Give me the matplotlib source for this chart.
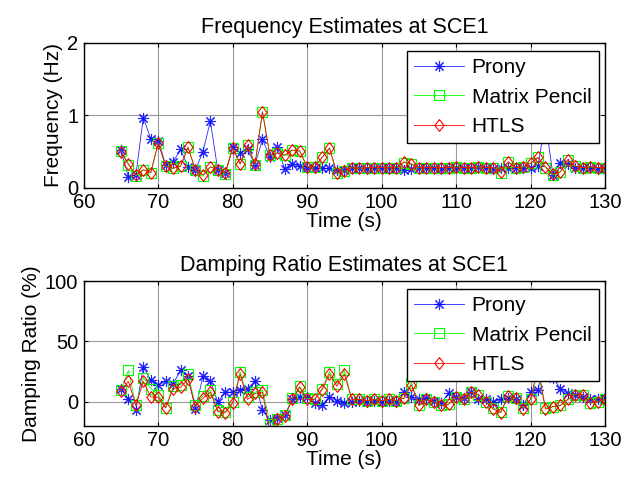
import numpy as np
import matplotlib
matplotlib.use("Agg")
import matplotlib.pyplot as plt

plt.rcParams["font.family"] = ["Liberation Sans", "DejaVu Sans"]

# ------------------------------------------------------------------
# Data
# ------------------------------------------------------------------

time_s = list(range(65, 131))

freq_prony = [0.52, 0.15, 0.18, 0.97, 0.68, 0.65, 0.32, 0.36, 0.53, 0.29,
              0.25, 0.50, 0.92, 0.25, 0.20, 0.56, 0.48, 0.53, 0.32, 0.67,
              0.43, 0.56, 0.26, 0.33, 0.30, 0.28, 0.28, 0.27, 0.27, 0.25,
              0.25, 0.27, 0.27, 0.26, 0.27, 0.27, 0.28, 0.27, 0.25, 0.26,
              0.28, 0.27, 0.27, 0.26, 0.27, 0.28, 0.27, 0.27, 0.29, 0.27,
              0.26, 0.27, 0.27, 0.28, 0.27, 0.28, 0.30, 0.93, 0.18, 0.35,
              0.33, 0.28, 0.27, 0.27, 0.26, 0.27]
freq_mp = [0.51, 0.32, 0.17, 0.25, 0.21, 0.62, 0.30, 0.27, 0.30, 0.56,
           0.24, 0.16, 0.29, 0.25, 0.19, 0.55, 0.33, 0.59, 0.32, 1.05,
           0.45, 0.48, 0.45, 0.52, 0.51, 0.29, 0.29, 0.42, 0.55, 0.20,
           0.23, 0.28, 0.27, 0.28, 0.28, 0.28, 0.28, 0.28, 0.35, 0.33,
           0.28, 0.28, 0.28, 0.28, 0.28, 0.29, 0.28, 0.28, 0.29, 0.28,
           0.28, 0.21, 0.36, 0.28, 0.29, 0.34, 0.42, 0.28, 0.18, 0.22,
           0.38, 0.30, 0.28, 0.29, 0.28, 0.28]
freq_htls = [0.50, 0.33, 0.18, 0.25, 0.21, 0.62, 0.30, 0.27, 0.30, 0.56,
             0.25, 0.18, 0.29, 0.25, 0.20, 0.55, 0.33, 0.59, 0.33, 1.05,
             0.45, 0.48, 0.45, 0.52, 0.51, 0.29, 0.29, 0.42, 0.55, 0.20,
             0.23, 0.28, 0.27, 0.28, 0.28, 0.28, 0.28, 0.28, 0.36, 0.33,
             0.28, 0.28, 0.28, 0.28, 0.28, 0.29, 0.28, 0.28, 0.29, 0.28,
             0.28, 0.22, 0.36, 0.28, 0.29, 0.34, 0.42, 0.29, 0.19, 0.22,
             0.39, 0.30, 0.28, 0.29, 0.28, 0.28]

damp_prony = [11, 2, -7, 29, 18, 14, 17, 15, 26, 21,
              -6, 21, 17, 0, 8, 8, 10, 11, 17, -7,
              -15, -13, -11, 2, 4, 4, -1, -3, 4, 1,
              -1, 0, 1, 0, 1, 0, 1, 0, 8, 4,
              2, 3, 1, -1, 7, 4, 3, 8, 2, 2,
              0, 2, 3, 2, -3, 8, 10, 40, 20, 11,
              7, 6, 4, 2, 2, 3]
damp_mp = [10, 26, -3, 20, 11, 6, -5, 13, 14, 23,
           -3, 5, 10, -7, -8, 0, 25, 4, 8, 10,
           -18, -14, -11, 3, 13, 3, 2, 11, 25, 15,
           26, 2, 2, 1, 2, 1, 2, 1, 3, 16,
           -3, 2, 0, -3, -2, 4, 2, 8, 6, 0,
           -5, -8, 5, 3, -5, 2, 25, -5, -4, -3,
           2, 6, 6, -1, 0, 2]
damp_htls = [9, 17, -3, 17, 4, 4, -5, 11, 12, 19,
             -4, 3, 8, -8, -9, -1, 23, 2, 7, 8,
             -25, -14, -12, 2, 12, 2, 2, 10, 23, 13,
             23, 2, 2, 1, 2, 1, 2, 1, 3, 14,
             -3, 2, 0, -3, -2, 4, 2, 8, 6, 0,
             -6, -9, 5, 3, -6, 2, 30, -6, -4, -3,
             2, 6, 6, -1, 0, 2]

series_labels = ["Prony", "Matrix Pencil", "HTLS"]

# ------------------------------------------------------------------
# Plot
# ------------------------------------------------------------------

fig = plt.figure(figsize=(6.25, 4.83), dpi=100)
ax_top = fig.add_axes([0.134, 0.611, 0.834, 0.300])
ax_bot = fig.add_axes([0.134, 0.118, 0.834, 0.300])

# MATLAB-like markers: 8-arm asterisk and a tall diamond
diamond = [(0, 1), (0.78, 0), (0, -1), (-0.78, 0), (0, 1)]
styles = [
    dict(color="blue", marker=(8, 2, 0), markersize=8, lw=0.6, alpha=0.85),
    dict(color=(0, 1, 0), marker="s", markersize=7.5, lw=0.6,
         markerfacecolor="none"),
    dict(color="red", marker=diamond, markersize=8.5, lw=0.6,
         markerfacecolor="none"),
]


def draw(ax, series, title, ylabel, ylim, yticks):
    for vals, label, st in zip(series, series_labels, styles):
        ax.plot(time_s, vals, label=label, markeredgewidth=0.8, **st)
    ax.set_xlim(60, 130)
    ax.set_ylim(*ylim)
    ax.set_xticks(range(60, 131, 10))
    ax.set_yticks(yticks)
    ax.grid(True, color="#999999", lw=0.8)
    ax.tick_params(direction="in", length=3, top=True, right=True,
                   labelsize=14.5)
    ax.tick_params(axis="x", pad=3.5)
    ax.tick_params(axis="y", pad=4)
    for sp in ax.spines.values():
        sp.set_linewidth(1.0)
    ax.set_title(title, fontsize=15.5, pad=7)
    ax.set_xlabel("Time (s)", fontsize=15, labelpad=0)
    ax.set_ylabel(ylabel, fontsize=15, labelpad=3)
    leg = ax.legend(loc="upper right", bbox_to_anchor=(0.988, 0.945),
                    fontsize=15, fancybox=False, framealpha=1,
                    edgecolor="black", handlelength=2.4,
                    labelspacing=0.5, borderpad=0.35, handletextpad=0.35,
                    borderaxespad=0)
    leg.get_frame().set_linewidth(1.0)


draw(ax_top, [freq_prony, freq_mp, freq_htls],
     "Frequency Estimates at SCE1", "Frequency (Hz)", (0, 2), [0, 1, 2])
draw(ax_bot, [damp_prony, damp_mp, damp_htls],
     "Damping Ratio Estimates at SCE1", "Damping Ratio (%)", (-20, 100),
     [0, 50, 100])

fig.savefig("out.png", dpi=100)
